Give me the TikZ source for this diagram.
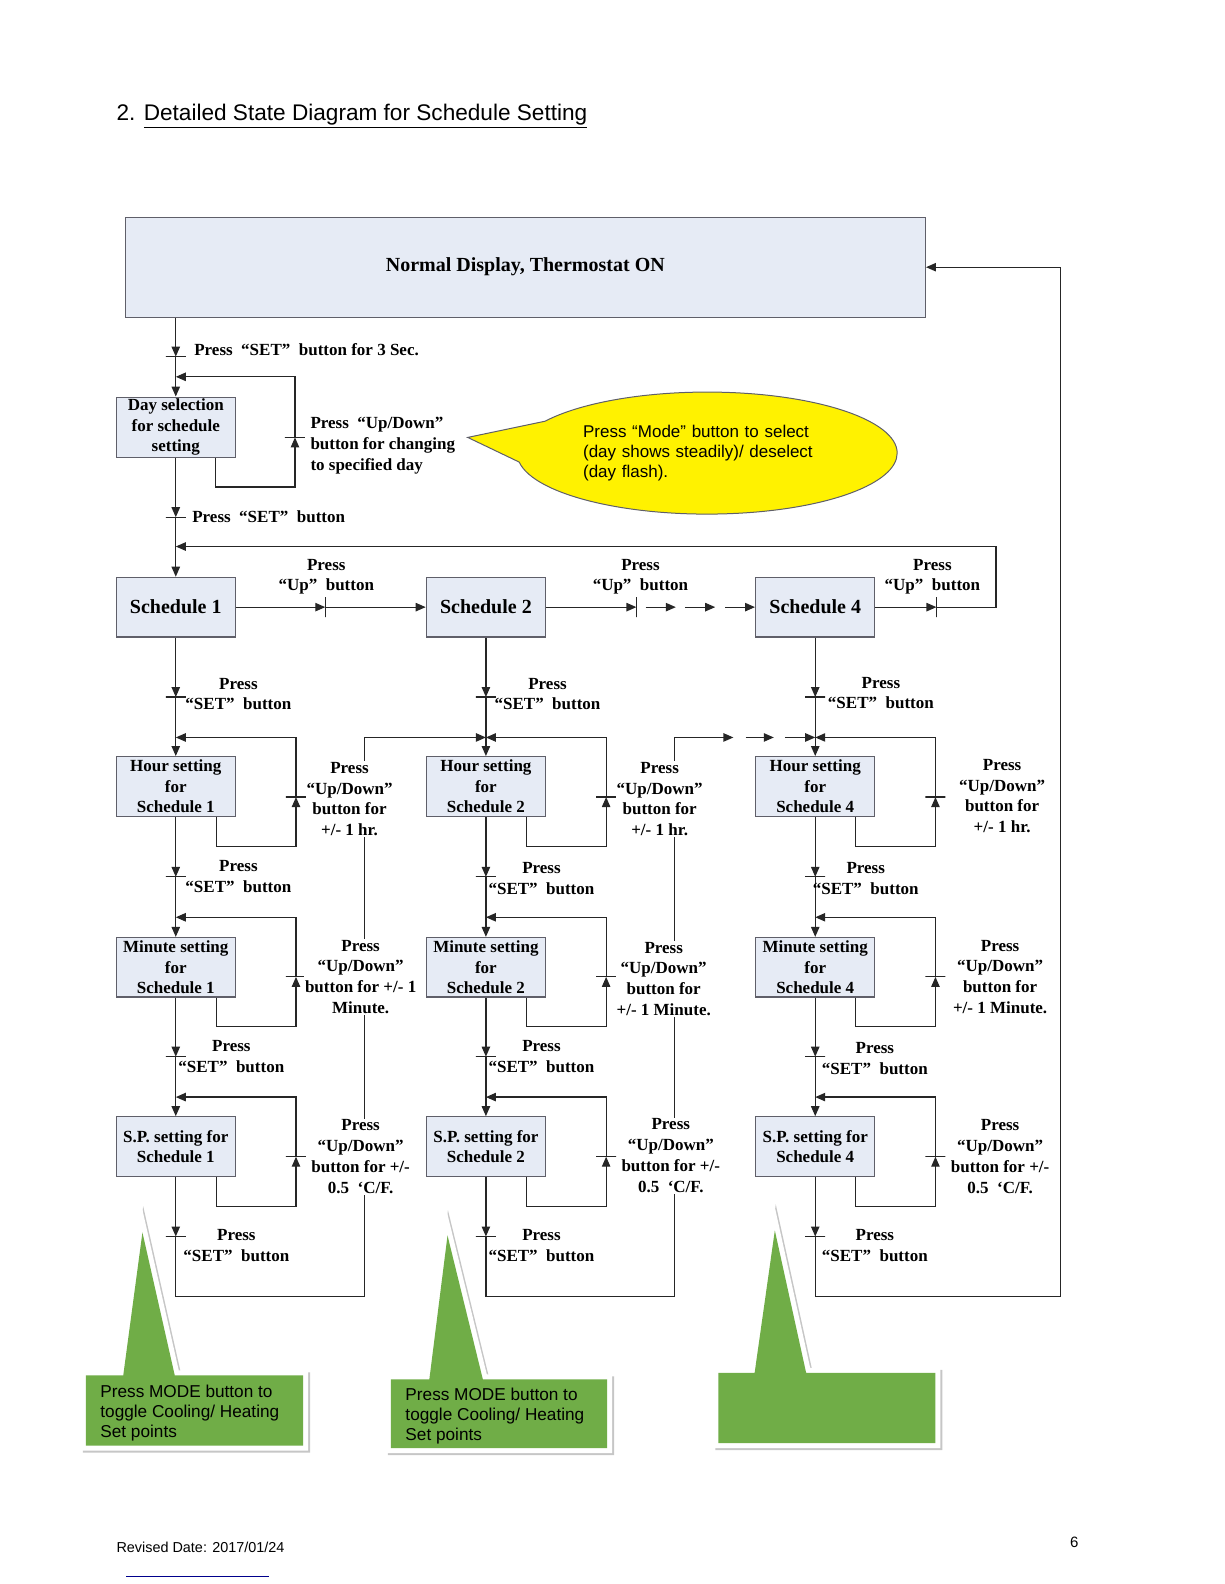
\documentclass[tikz,border=0pt]{standalone}
\usepackage{fontspec}
\setmainfont{Liberation Serif}
\newfontfamily\arialfont{Liberation Sans}
\usetikzlibrary{positioning, shapes.callouts, arrows.meta, calc}
\definecolor{boxfill}{RGB}{230,235,245}
\definecolor{boxline}{RGB}{95,95,105}
\definecolor{calgreen}{RGB}{112,173,71}
\tikzset{
  state/.style={draw=boxline, line width=0.6pt, fill=boxfill,
                minimum width=59.6pt, minimum height=29.8pt,
                align=center, inner sep=1pt,
                font=\fontsize{8.5}{10.2}\selectfont\bfseries},
  flow/.style={-{Triangle[length=5pt,width=4.2pt]}, line width=0.6pt, black!85},
  hbar/.style={draw=black!85, line width=0.6pt, minimum width=10pt, minimum height=0pt, inner sep=0pt, outer sep=0pt},
  vbar/.style={draw=black!85, line width=0.6pt, minimum height=10pt, minimum width=0pt, inner sep=0pt, outer sep=0pt}
}

\begin{document}
\begin{tikzpicture}[
  x=0.505pt, y=-0.505pt,
  note/.style={align=center, inner sep=1pt, font=\fontsize{8.5}{10.4}\selectfont\bfseries},
  retnote/.style={note, fill=white, inner sep=0.5pt},
  bignote/.style={state, font=\fontsize{10}{12}\selectfont\bfseries},
  tipbox/.style={fill=calgreen,
    preaction={draw=gray!45, fill=gray!45, line width=5pt, transform canvas={xshift=1pt, yshift=-1pt}},
    preaction={draw=white, line width=5pt}},
  tiptext/.style={anchor=north west, align=left, inner sep=0pt, font=\arialfont\fontsize{8.6}{9.9}\selectfont}
]
\useasboundingbox (0,0) rectangle (1212,1568);

% page header and footer
\node[anchor=base west, inner sep=0pt, font=\arialfont\fontsize{11.3}{13}\selectfont] (title) at (115,119)
  {2. \underline{Detailed State Diagram for Schedule Setting}};
\node[anchor=base west, inner sep=0pt, font=\arialfont\fontsize{7.2}{9}\selectfont] (revdate) at (115,1537) {Revised Date: 2017/01/24};
\node[anchor=base west, inner sep=0pt, font=\arialfont\fontsize{7.5}{9}\selectfont] (pagenum) at (1059,1532) {6};
\draw[blue!55!black, line width=0.4pt] (125,1560) -- (266,1560);

% states
\node[bignote, minimum width=400pt, minimum height=50pt] (normal) at (520,264.5) {Normal Display, Thermostat ON};
\node[state] (day) at (174,423) {Day selection\\for schedule\\setting};
\node[bignote] (sch1) at (174,601) {Schedule 1};
\node[bignote] (sch2) at (481,601) {Schedule 2};
\node[bignote] (sch4) at (807,601) {Schedule 4};
\node[state] (hr1) at (174,778.5) {Hour setting\\for\\Schedule 1};
\node[state] (hr2) at (481,778.5) {Hour setting\\for\\Schedule 2};
\node[state] (hr4) at (807,778.5) {Hour setting\\for\\Schedule 4};
\node[state] (mn1) at (174,957.5) {Minute setting\\for\\Schedule 1};
\node[state] (mn2) at (481,957.5) {Minute setting\\for\\Schedule 2};
\node[state] (mn4) at (807,957.5) {Minute setting\\for\\Schedule 4};
\node[state] (sp1) at (174,1135) {S.P. setting for\\Schedule 1};
\node[state] (sp2) at (481,1135) {S.P. setting for\\Schedule 2};
\node[state] (sp4) at (807,1135) {S.P. setting for\\Schedule 4};

% transition bars
\node[hbar] (ta) at (174,353) {};
\node[hbar] (tday) at (292,433) {};
\node[hbar] (tb) at (174,512) {};
\node[vbar] (tu1) at (322,601) {};
\node[vbar] (tu2) at (630,601) {};
\node[vbar] (tu4) at (927,601) {};
\node[hbar] (th1) at (174,690) {};
\node[hbar] (th2) at (481,690) {};
\node[hbar] (th4) at (807,690) {};
\node[hbar] (lh1) at (293,789) {};
\node[hbar] (lh2) at (600,789) {};
\node[hbar] (lh4) at (926,789) {};
\node[hbar] (tm1) at (174,868) {};
\node[hbar] (tm2) at (481,868) {};
\node[hbar] (tm4) at (807,868) {};
\node[hbar] (lm1) at (293,967) {};
\node[hbar] (lm2) at (600,967) {};
\node[hbar] (lm4) at (926,967) {};
\node[hbar] (tp1) at (174,1046) {};
\node[hbar] (tp2) at (481,1046) {};
\node[hbar] (tp4) at (807,1046) {};
\node[hbar] (lp1) at (293,1145) {};
\node[hbar] (lp2) at (600,1145) {};
\node[hbar] (lp4) at (926,1145) {};
\node[hbar] (te1) at (174,1224) {};
\node[hbar] (te2) at (481,1224) {};
\node[hbar] (te4) at (807,1224) {};

% junctions and corners
\coordinate (jday) at (174,373);
\coordinate (jrow) at (174,541);
\coordinate (rowend) at (986,601);
\coordinate (jh1) at (174,730);
\coordinate (jh2) at (481,730);
\coordinate (jh4) at (807,730);
\coordinate (jm1) at (174,908);
\coordinate (jm2) at (481,908);
\coordinate (jm4) at (807,908);
\coordinate (jp1) at (174,1086);
\coordinate (jp2) at (481,1086);
\coordinate (jp4) at (807,1086);
\coordinate (ret1) at (361,1283);
\coordinate (ret2) at (668,1283);
\coordinate (ret4) at (1050,1283);

% entry and day selection
\draw[flow] (day.north |- normal.south) -- (ta.center);
\draw[flow] (ta.center) -- (day);
\draw[flow] ($(day.south)+(39,0)$) |- ($(tday)+(0,49)$) -- (tday.center);
\draw[flow] (tday.center) |- (jday);
\draw[flow] (day) -- (tb.center);
\draw[flow] (tb.center) -- (sch1);

% schedule row
\draw[flow] (sch1) -- (tu1.center);
\draw[flow] (tu1.center) -- (sch2);
\draw[flow] (sch2) -- (tu2.center);
\coordinate (dr1) at (639,601);
\coordinate (dr2) at (669,601);
\coordinate (dr3) at (678,601);
\coordinate (dr4) at (708,601);
\coordinate (dr5) at (718,601);
\draw[flow] (dr1) -- (dr2);
\draw[flow] (dr3) -- (dr4);
\draw[flow] (dr5) -- (sch4);
\draw[flow] (sch4) -- (tu4.center);
\draw[flow] (tu4.center) -- (rowend) |- (jrow);

% schedule 1
\draw[flow] (sch1) -- (th1.center);
\draw[flow] (th1.center) -- (hr1);
\draw[flow] ($(hr1.south)+(40,0)$) |- ($(lh1)+(0,49)$) -- (lh1.center);
\draw[flow] (lh1.center) |- (jh1);
\draw[flow] (hr1) -- (tm1.center);
\draw[flow] (tm1.center) -- (mn1);
\draw[flow] ($(mn1.south)+(40,0)$) |- ($(lm1)+(0,49)$) -- (lm1.center);
\draw[flow] (lm1.center) |- (jm1);
\draw[flow] (mn1) -- (tp1.center);
\draw[flow] (tp1.center) -- (sp1);
\draw[flow] ($(sp1.south)+(40,0)$) |- ($(lp1)+(0,49)$) -- (lp1.center);
\draw[flow] (lp1.center) |- (jp1);
\draw[flow] (sp1) -- (te1.center);
\draw[flow] (te1.center) |- (ret1) -- (ret1 |- jh2) -- (jh2);

% schedule 2
\draw[flow] (sch2) -- (th2.center);
\draw[flow] (th2.center) -- (hr2);
\draw[flow] ($(hr2.south)+(40,0)$) |- ($(lh2)+(0,49)$) -- (lh2.center);
\draw[flow] (lh2.center) |- (jh2);
\draw[flow] (hr2) -- (tm2.center);
\draw[flow] (tm2.center) -- (mn2);
\draw[flow] ($(mn2.south)+(40,0)$) |- ($(lm2)+(0,49)$) -- (lm2.center);
\draw[flow] (lm2.center) |- (jm2);
\draw[flow] (mn2) -- (tp2.center);
\draw[flow] (tp2.center) -- (sp2);
\draw[flow] ($(sp2.south)+(40,0)$) |- ($(lp2)+(0,49)$) -- (lp2.center);
\draw[flow] (lp2.center) |- (jp2);
\draw[flow] (sp2) -- (te2.center);
\coordinate (dh1) at (726,730);
\coordinate (dh2) at (738,730);
\coordinate (dh3) at (766,730);
\coordinate (dh4) at (777,730);
\draw[flow] (te2.center) |- (ret2) -- (ret2 |- jh4) -- (dh1);
\draw[flow] (dh2) -- (dh3);
\draw[flow] (dh4) -- (jh4);

% schedule 4
\draw[flow] (sch4) -- (th4.center);
\draw[flow] (th4.center) -- (hr4);
\draw[flow] ($(hr4.south)+(40,0)$) |- ($(lh4)+(0,49)$) -- (lh4.center);
\draw[flow] (lh4.center) |- (jh4);
\draw[flow] (hr4) -- (tm4.center);
\draw[flow] (tm4.center) -- (mn4);
\draw[flow] ($(mn4.south)+(40,0)$) |- ($(lm4)+(0,49)$) -- (lm4.center);
\draw[flow] (lm4.center) |- (jm4);
\draw[flow] (mn4) -- (tp4.center);
\draw[flow] (tp4.center) -- (sp4);
\draw[flow] ($(sp4.south)+(40,0)$) |- ($(lp4)+(0,49)$) -- (lp4.center);
\draw[flow] (lp4.center) |- (jp4);
\draw[flow] (sp4) -- (te4.center);
\draw[flow] (te4.center) |- (ret4) |- (normal.east);

% labels
\node[note, anchor=west] (nta) at (190,346) {Press~~“SET”~~button for 3 Sec.};
\node[note, anchor=west, align=left] (nday) at (305,441) {Press~~“Up/Down”\\button for changing\\to specified day};
\node[note, anchor=west] (ntb) at (188,511) {Press~~“SET”~~button};
\node[note] (nu1) at (323,571) {Press\\“Up”~~button};
\node[note] (nu2) at (634,571) {Press\\“Up”~~button};
\node[note] (nu4) at (923,571) {Press\\“Up”~~button};
\node[note] (nh1) at (236,687) {Press\\“SET”~~button};
\node[note] (nh2) at (542,687) {Press\\“SET”~~button};
\node[note] (nh4) at (872,686) {Press\\“SET”~~button};
\node[note] (nm1) at (236,868) {Press\\“SET”~~button};
\node[note] (nm2) at (536,870) {Press\\“SET”~~button};
\node[note] (nm4) at (857,870) {Press\\“SET”~~button};
\node[note] (np1) at (229,1046) {Press\\“SET”~~button};
\node[note] (np2) at (536,1046) {Press\\“SET”~~button};
\node[note] (np4) at (866,1048) {Press\\“SET”~~button};
\node[note] (ne1) at (234,1233) {Press\\“SET”~~button};
\node[note] (ne2) at (536,1233) {Press\\“SET”~~button};
\node[note] (ne4) at (866,1233) {Press\\“SET”~~button};
\node[retnote] (uh1) at (346,791) {Press\\“Up/Down”\\button for\\+/- 1 hr.};
\node[retnote] (uh2) at (653,791) {Press\\“Up/Down”\\button for\\+/- 1 hr.};
\node[retnote] (uh4) at (992,788) {Press\\“Up/Down”\\button for\\+/- 1 hr.};
\node[retnote] (um1) at (357,967) {Press\\“Up/Down”\\button for +/- 1\\Minute.};
\node[retnote] (um2) at (657,969) {Press\\“Up/Down”\\button for\\+/- 1 Minute.};
\node[retnote] (um4) at (990,967) {Press\\“Up/Down”\\button for\\+/- 1 Minute.};
\node[retnote] (up1) at (357,1145) {Press\\“Up/Down”\\button for +/-\\0.5~~‘C/F.};
\node[retnote] (up2) at (664,1144) {Press\\“Up/Down”\\button for +/-\\0.5~~‘C/F.};
\node[retnote] (up4) at (990,1145) {Press\\“Up/Down”\\button for +/-\\0.5~~‘C/F.};

% callouts
\node[ellipse callout, draw=boxline, line width=0.5pt, fill=yellow,
      minimum width=190pt, minimum height=61pt,
      callout absolute pointer={(463,433)}, callout pointer arc=40,
      text width=124pt, align=left, font=\arialfont\fontsize{8.5}{10.1}\selectfont] (modetip) at (700,448.5)
  {Press “Mode” button to select\\(day shows steadily)/ deselect\\(day flash).};
\path[tipbox] (85,1361.5) -- (122,1361.5) -- (141,1220) -- (173,1361.5) -- (300,1361.5) -- (300,1431) -- (85,1431) -- cycle;
\path[tipbox] (387,1365.5) -- (425,1365.5) -- (443,1223) -- (478,1365.5) -- (601,1365.5) -- (601,1433.5) -- (387,1433.5) -- cycle;
\path[tipbox] (711,1359) -- (747,1359) -- (767,1218) -- (798,1359) -- (926,1359) -- (926,1428.5) -- (711,1428.5) -- cycle;
\node[tiptext] (mode1) at (99,1371) {Press MODE button to\\toggle Cooling/ Heating\\Set points};
\node[tiptext] (mode2) at (401,1374) {Press MODE button to\\toggle Cooling/ Heating\\Set points};
\end{tikzpicture}
\end{document}
